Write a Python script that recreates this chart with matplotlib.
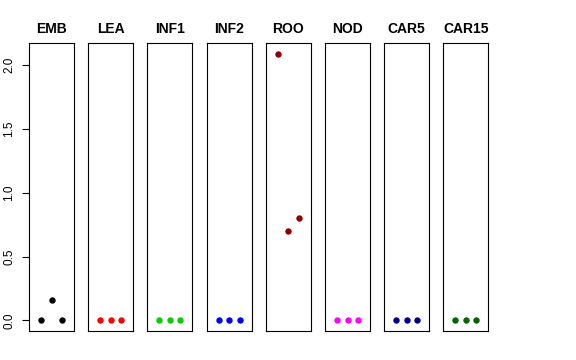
import matplotlib
matplotlib.use("Agg")
import matplotlib.pyplot as plt

panels = ["EMB", "LEA", "INF1", "INF2", "ROO", "NOD", "CAR5", "CAR15"]
values = {
    "EMB": [0.0, 0.16, 0.0],
    "LEA": [0.0, 0.0, 0.0],
    "INF1": [0.0, 0.0, 0.0],
    "INF2": [0.0, 0.0, 0.0],
    "ROO": [2.09, 0.70, 0.80],
    "NOD": [0.0, 0.0, 0.0],
    "CAR5": [0.0, 0.0, 0.0],
    "CAR15": [0.0, 0.0, 0.0],
}
colors = ["black", "red", "#00CD00", "blue", "#8B0000", "magenta", "#00008B", "#006400"]
xs = [1, 2, 3]
yticks = [0.0, 0.5, 1.0, 1.5, 2.0]

W, H = 576, 360
plt.rcParams['font.family'] = ['Liberation Sans', 'DejaVu Sans']
fig = plt.figure(figsize=(W / 100, H / 100), dpi=100)

ymax = max(max(v) for v in values.values())
ymin = 0.0
pad = (ymax - ymin) * 0.04
left0, step, pw = 29, 59.2, 45
top, bottom = 43, 331
for i, name in enumerate(panels):
    l = left0 + i * step
    ax = fig.add_axes([l / W, (H - bottom) / H, pw / W, (bottom - top) / H])
    ax.plot(xs, values[name], 'o', color=colors[i], markersize=4.6, markeredgewidth=0)
    ax.set_xlim(0 - 0.16, 4 + 0.16)
    ax.set_ylim(ymin - pad, ymax + pad)
    ax.set_xticks([])
    ax.set_title(name, fontsize=10, fontweight='bold', pad=7)
    for s in ax.spines.values():
        s.set_linewidth(0.8)
        s.set_color('black')
    if i == 0:
        ax.set_yticks(yticks)
        ax.set_yticklabels([f"{t:.1f}" for t in yticks], fontsize=8.5)
        ax.tick_params(axis='y', length=5, width=0.8, pad=5, labelrotation=90)
        for lab in ax.get_yticklabels():
            lab.set_rotation(90)
            lab.set_ha('right')
            lab.set_va('center')
            lab.set_rotation_mode('default')
    else:
        ax.set_yticks([])

fig.savefig("out.png", dpi=100)
